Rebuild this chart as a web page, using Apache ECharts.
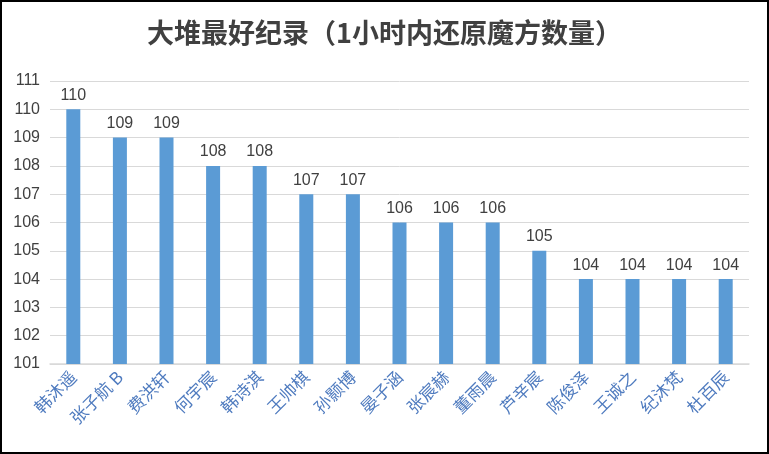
<!DOCTYPE html>
<html><head><meta charset="utf-8">
<script src="https://cdn.jsdelivr.net/npm/echarts@6/dist/echarts.min.js"></script>
<style>html,body{margin:0;padding:0;background:#fff}
#c{width:765px;height:450px;border:2px solid #000}</style>
</head><body><div id="c"></div>
<script>
// 大堆最好纪录
var names = ['韩沐遥','张子航 B','费洪轩','何宇宸','韩诗淇','王帅棋','孙颢博','晏子涵','张宸赫','董雨晨','芦辛宸','陈俊泽','王诚之','纪沐梵','杜百辰'];
var counts = [110,109,109,108,108,107,107,106,106,106,105,104,104,104,104];

var myChart = echarts.init(document.getElementById('c'));
var option = {
    title: {
        text: '大堆最好纪录（1小时内还原魔方数量）',
        left: 'center', top: 12,
        textStyle: {fontFamily: 'Noto Sans CJK SC', fontSize: 27, fontWeight: 'bold', color: '#404040'}
    },
    grid: {left: 48, right: 18, top: 79, bottom: 88},
    xAxis: {
        type: 'category', data: names,
        axisLine: {lineStyle: {color: '#d9d9d9', width: 1.5}},
        axisTick: {show: false},
        axisLabel: {rotate: 45, interval: 0, fontSize: 17, fontFamily: 'Noto Sans CJK SC', color: '#4f7bbf', margin: 10}
    },
    yAxis: {
        type: 'value', min: 101, max: 111, interval: 1,
        axisLine: {show: false}, axisTick: {show: false},
        axisLabel: {fontSize: 16, color: '#404040', fontFamily: 'Liberation Sans', margin: 10},
        splitLine: {lineStyle: {color: '#d9d9d9'}}
    },
    series: [{
        type: 'bar', data: counts, barWidth: 14,
        itemStyle: {color: '#5b9bd5'},
        label: {show: true, position: 'top', fontSize: 16, color: '#404040', fontFamily: 'Liberation Sans', distance: 6}
    }]
};
myChart.setOption(option);
</script></body></html>
